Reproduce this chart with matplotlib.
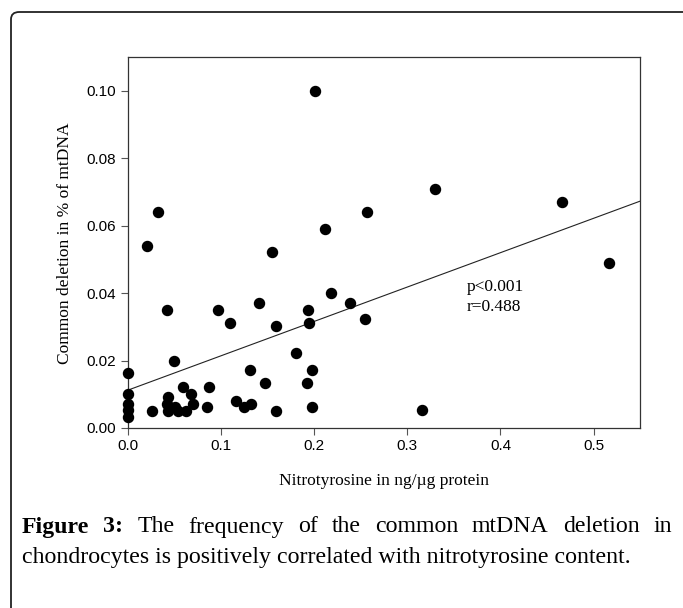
import numpy as np
import matplotlib.pyplot as plt
from matplotlib.patches import FancyBboxPatch

# nitrotyrosine (ng/ug protein) vs common deletion (% of mtDNA)
nitro = [0, 0, 0, 0, 0,
         0.021, 0.0325, 0.026, 0.042, 0.050, 0.043, 0.042, 0.043, 0.051, 0.054,
         0.060, 0.063, 0.068, 0.070, 0.085, 0.087, 0.097, 0.110, 0.116, 0.125,
         0.132, 0.131, 0.141, 0.147, 0.1545, 0.159, 0.1595, 0.181, 0.192, 0.194,
         0.195, 0.198, 0.198, 0.2016, 0.212, 0.218, 0.239, 0.255, 0.2566, 0.3155,
         0.330, 0.4657, 0.5164]
deletion = [0.0163, 0.0101, 0.0072, 0.0053, 0.0032,
            0.054, 0.064, 0.0051, 0.035, 0.020, 0.0093, 0.0071, 0.0051, 0.0063, 0.0051,
            0.0122, 0.0051, 0.0101, 0.0071, 0.0061, 0.0122, 0.035, 0.0312, 0.0081, 0.0061,
            0.0071, 0.0172, 0.0371, 0.0132, 0.0521, 0.0302, 0.0051, 0.0221, 0.0132, 0.0351,
            0.0312, 0.0172, 0.0062, 0.100, 0.059, 0.040, 0.0371, 0.0322, 0.064, 0.0053,
            0.071, 0.067, 0.049]

xticks = [0.0, 0.1, 0.2, 0.3, 0.4, 0.5]
yticks = [0.00, 0.02, 0.04, 0.06, 0.08, 0.10]

fig = plt.figure(figsize=(6.83, 6.08), dpi=100)

# rounded frame around the figure (runs off the right/bottom edge)
frame = FancyBboxPatch((11 / 683, -0.2), 1.2, 1.2 - 12 / 608,
                       boxstyle="round,pad=0,rounding_size=0.012",
                       transform=fig.transFigure, fill=False,
                       edgecolor='#222222', linewidth=1.3)
fig.patches.append(frame)

ax = fig.add_axes([0.1867, 0.2961, 0.7508, 0.6097])
ax.scatter(nitro, deletion, s=52, color='black', zorder=3, clip_on=False)

m, b = np.polyfit(nitro, deletion, 1)
xl = np.array([0, 0.55])
ax.plot(xl, m * xl + b, color='#222222', linewidth=0.8)

ax.set_xlim(0, 0.55)
ax.set_ylim(0, 0.11)
ax.set_xticks(xticks)
ax.set_yticks(yticks)
ax.set_xticklabels(['%.1f' % t for t in xticks], fontfamily='Liberation Sans', fontsize=11)
ax.set_yticklabels(['%.2f' % t for t in yticks], fontfamily='Liberation Sans', fontsize=11)
ax.tick_params(direction='out', length=5, width=0.8, color='#555555', pad=3)
for sp in ax.spines.values():
    sp.set_color('#333333')
    sp.set_linewidth(0.9)

ax.text(0.3637, 0.0418, 'p<0.001', family='Liberation Serif', fontsize=12.5, va='center')
ax.text(0.3637, 0.0359, 'r=0.488', family='Liberation Serif', fontsize=12.5, va='center')

fig.text(384 / 683, 1 - 481 / 608, 'Nitrotyrosine in ng/\u00b5g protein',
         family='Liberation Serif', fontsize=12.5, ha='center', va='center')
fig.text(65 / 683, 1 - 243 / 608, 'Common deletion in % of mtDNA',
         family='Liberation Serif', fontsize=12.5, ha='center', va='center', rotation=90)

# caption, first line justified
words1 = ['Figure', '3:', 'The', 'frequency', 'of', 'the', 'common', 'mtDNA', 'deletion', 'in']
bold = [True, True] + [False] * 8
y1 = 1 - 527 / 608
texts = []
for w, bw in zip(words1, bold):
    texts.append(fig.text(0, y1, w, family='Liberation Serif', fontsize=17.2,
                          weight='bold' if bw else 'normal', va='center'))
r = fig.canvas.get_renderer()
widths = [t.get_window_extent(r).width for t in texts]
left, right = 22, 672
gap = (right - left - sum(widths)) / (len(words1) - 1)
pos = left
for t, w in zip(texts, widths):
    t.set_x(pos / 683)
    pos += w + gap

fig.text(22 / 683, 1 - 557 / 608,
         'chondrocytes is positively correlated with nitrotyrosine content.',
         family='Liberation Serif', fontsize=17.2, va='center')

fig.savefig('out.png', dpi=100)
